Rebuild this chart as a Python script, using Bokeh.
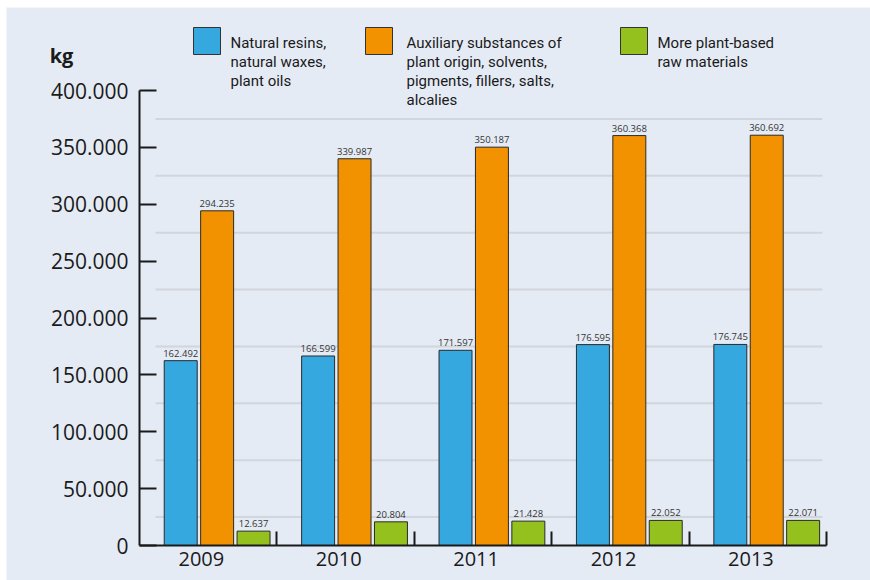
from bokeh.plotting import figure
from bokeh.models import FixedTicker, Label, BoxAnnotation
from bokeh.core.properties import value
from bokeh.embed import file_html
from bokeh.resources import INLINE

# ---------------- data ----------------
years = ["2009", "2010", "2011", "2012", "2013"]
natural_resins = [162492, 166599, 171597, 176595, 176745]
auxiliary_substances = [294235, 339987, 350187, 360368, 360692]
other_plant_materials = [12637, 20804, 21428, 22052, 22071]

series_labels = [
    ["Natural resins,", "natural waxes,", "plant oils"],
    ["Auxiliary substances of", "plant origin, solvents,", "pigments, fillers, salts,", "alcalies"],
    ["More plant-based", "raw materials"],
]
series_colors = ["#35a8e0", "#f39200", "#95c11f"]

y_ticks = [0, 50000, 100000, 150000, 200000, 250000, 300000, 350000, 400000]
y_tick_labels = ["0", "50.000", "100.000", "150.000", "200.000", "250.000",
                 "300.000", "350.000", "400.000"]
unit_label = "kg"

# ---------------- layout constants (canvas pixels) ----------------
W, H = 864, 573
AX_L, AX_R = 133, 820        # x-axis line extent (data 0 .. n groups)
ZERO_Y = 538                 # canvas row of y = 0
AXIS_PX = 455.0              # pixels for 0..400000
n = len(years)
ppu = (AX_R - AX_L) / n
X_START = -AX_L / ppu
X_END = n + (W - AX_R) / ppu
Y_END = y_ticks[-1] * ZERO_Y / AXIS_PX
Y_START = -y_ticks[-1] * (H - ZERO_Y) / AXIS_PX

BG = "#e5ebf5"
INK = "#1a1a1a"
FONT = "Open Sans"

p = figure(width=W, height=H, output_backend="svg", toolbar_location=None,
           x_range=(X_START, X_END), y_range=(Y_START, Y_END))
p.margin = (7, 0, 0, 6)
p.min_border = 0
p.background_fill_color = BG
p.border_fill_color = BG
p.outline_line_color = None

# ---------------- grid (half steps, limited extent) ----------------
p.xgrid.visible = False
p.ygrid.visible = False
half_steps = [(a + b) / 2 for a, b in zip(y_ticks[:-1], y_ticks[1:])]
p.segment(x0=[0.116] * len(half_steps), x1=[n - 0.03] * len(half_steps),
          y0=half_steps, y1=half_steps, line_color="#d2d6dc", line_width=2)

# ---------------- bars ----------------
offsets = [0.30, 0.565, 0.83]
bar_w = 0.24
all_series = [natural_resins, auxiliary_substances, other_plant_materials]
for vals, off, col in zip(all_series, offsets, series_colors):
    xs = [i + off for i in range(n)]
    p.vbar(x=xs, top=vals, width=bar_w, bottom=0, fill_color=col,
           line_color="#2a2a2a", line_width=1)
    p.text(x=xs, y=vals, text=[f"{v:,}".replace(",", ".") for v in vals],
           text_align="center", text_baseline="bottom", y_offset=-4,
           text_font=value(FONT), text_font_size="9.5px", text_color="#333333")

# ---------------- axes ----------------
yax = p.yaxis[0]
yax.fixed_location = 0
yax.ticker = FixedTicker(ticks=y_ticks, minor_ticks=[])
yax.major_label_overrides = dict(zip(y_ticks, y_tick_labels))
yax.bounds = (0, y_ticks[-1])
yax.major_tick_in = 17
yax.major_tick_out = 0
yax.minor_tick_line_color = None
yax.axis_line_width = 2
yax.axis_line_color = INK
yax.major_tick_line_width = 2
yax.major_tick_line_color = INK
yax.major_label_text_font = FONT
yax.major_label_text_font_size = "21px"
yax.major_label_text_color = INK
yax.major_label_standoff = 11

xcenters = [i + 0.45 for i in range(n)]
xax = p.xaxis[0]
xax.fixed_location = 0
xax.ticker = FixedTicker(ticks=xcenters, minor_ticks=[i + 1 for i in range(n)])
xax.major_label_overrides = dict(zip(xcenters, years))
xax.bounds = (0, n)
xax.major_tick_in = 0
xax.major_tick_out = 0
xax.major_tick_line_color = None
xax.minor_tick_in = 14
xax.minor_tick_out = 0
xax.minor_tick_line_width = 2
xax.minor_tick_line_color = INK
xax.axis_line_width = 2
xax.axis_line_color = INK
xax.major_label_text_font = FONT
xax.major_label_text_font_size = "20px"
xax.major_label_text_color = INK
xax.major_label_standoff = 6

# ---------------- unit label ----------------
p.add_layout(Label(x=55, y=48, x_units="canvas", y_units="canvas", text=unit_label,
                   text_font=FONT, text_font_size="20px", text_font_style="bold",
                   text_color=INK, text_align="center", text_baseline="middle"))

# ---------------- legend (manual) ----------------
legend_box_x = [187, 359, 614]
legend_text_x = [224, 400, 651]
box_top, box_size = 20, 27
line_y0, line_step = 35, 19
for bx, tx, col, lines in zip(legend_box_x, legend_text_x, series_colors, series_labels):
    p.add_layout(BoxAnnotation(left=bx, right=bx + box_size, top=box_top,
                               bottom=box_top + box_size,
                               left_units="canvas", right_units="canvas",
                               top_units="canvas", bottom_units="canvas",
                               fill_color=col, fill_alpha=1.0,
                               line_color="#333333", line_width=1, line_alpha=1.0))
    for k, ln in enumerate(lines):
        p.add_layout(Label(x=tx, y=line_y0 + k * line_step, x_units="canvas", y_units="canvas",
                           text=ln, text_font="Roboto", text_font_size="15px",
                           text_color=INK, text_align="left", text_baseline="middle"))

open("out.html", "w").write(file_html(p, INLINE))
